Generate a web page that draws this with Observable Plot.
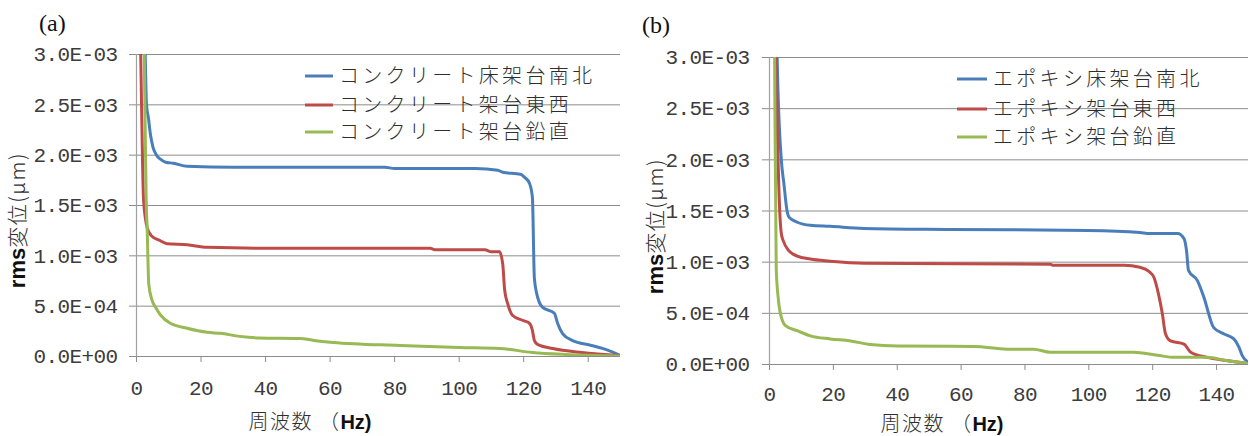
<!DOCTYPE html>
<html><head><meta charset="utf-8">
<script src="https://cdn.jsdelivr.net/npm/d3@7"></script>
<script src="https://cdn.jsdelivr.net/npm/@observablehq/plot@0.6"></script>
<style>
body{margin:0;background:#fff;width:1249px;height:436px;overflow:hidden;position:relative}
.panel{position:absolute;top:0}
</style></head><body>
<div id="pa" class="panel" style="left:0;width:630px"></div>
<div id="pb" class="panel" style="left:630px;width:619px"></div>
<script>
// ---- tick labels ----
const yTicks = [0, 0.0005, 0.001, 0.0015, 0.002, 0.0025, 0.003];
const yTickLabels = ["0.0E+00", "5.0E-04", "1.0E-03", "1.5E-03", "2.0E-03", "2.5E-03", "3.0E-03"];
const xTicks = [0, 20, 40, 60, 80, 100, 120, 140];
const colors = ["#4A7EBB", "#BE4B48", "#98B954"];

// ---- panel (a) series names ----
const namesA = ["コンクリート床架台南北", "コンクリート架台東西", "コンクリート架台鉛直"];
// ---- panel (b) series names ----
const namesB = ["エポキシ床架台南北", "エポキシ架台東西", "エポキシ架台鉛直"];

// ---- (a) コンクリート床架台南北 ----
const aNS_f = [2.4, 2.7, 3.1, 3.7, 4.3, 5.1, 6.2, 7.4, 9, 11.4, 15.7, 30, 77, 80, 105, 112, 113.5, 119, 120.3, 121.8, 122.7, 123.3, 124, 125.8, 129.5, 130.5, 132, 135, 141, 144.4, 147, 150];
const aNS_v = [3.5e-3, 3.0e-3, 2.5e-3, 2.37e-3, 2.21e-3, 2.08e-3, 2.0e-3, 1.96e-3, 1.93e-3, 1.92e-3, 1.89e-3, 1.88e-3, 1.88e-3, 1.867e-3, 1.867e-3, 1.85e-3, 1.83e-3, 1.81e-3, 1.78e-3, 1.72e-3, 1.58e-3, 0.78e-3, 0.63e-3, 0.49e-3, 0.43e-3, 0.33e-3, 0.23e-3, 0.16e-3, 0.11e-3, 0.08e-3, 0.05e-3, 0.01e-3];
// ---- (a) コンクリート架台東西 ----
const aEW_f = [1.0, 1.3, 2.2, 3.3, 4.6, 7.4, 9.5, 15.7, 21.9, 44, 91, 92.7, 108, 110, 112.5, 113.5, 114.1, 115, 116.5, 119.6, 121.8, 122.7, 123.3, 124.3, 129, 138, 150];
const aEW_v = [3.5e-3, 3.0e-3, 1.55e-3, 1.28e-3, 1.20e-3, 1.15e-3, 1.12e-3, 1.11e-3, 1.085e-3, 1.075e-3, 1.075e-3, 1.06e-3, 1.06e-3, 1.04e-3, 1.04e-3, 0.92e-3, 0.66e-3, 0.53e-3, 0.41e-3, 0.36e-3, 0.33e-3, 0.26e-3, 0.16e-3, 0.12e-3, 0.08e-3, 0.04e-3, 0.01e-3];
// ---- (a) コンクリート架台鉛直 ----
const aV_f = [2.0, 2.4, 3.0, 3.3, 3.8, 4.8, 5.9, 7.5, 10.5, 15.7, 21.9, 26, 32, 38, 50.7, 55, 61, 81.6, 100, 112.5, 122.7, 133, 150];
const aV_v = [3.5e-3, 3.0e-3, 1.55e-3, 1.28e-3, 0.72e-3, 0.56e-3, 0.49e-3, 0.41e-3, 0.33e-3, 0.28e-3, 0.24e-3, 0.23e-3, 0.20e-3, 0.185e-3, 0.18e-3, 0.16e-3, 0.14e-3, 0.11e-3, 0.09e-3, 0.08e-3, 0.04e-3, 0.02e-3, 0.005e-3];

// ---- (b) エポキシ床架台南北 ----
const bNS_f = [2.2, 2.4, 3.7, 4.5, 5.5, 6.1, 8.7, 12.8, 19, 29.5, 56.7, 99.6, 116, 119, 127.8, 129.8, 130.6, 131.2, 134, 136, 139.1, 142.2, 145.4, 147, 148, 150];
const bNS_v = [3.5e-3, 3.0e-3, 2.0e-3, 1.77e-3, 1.5e-3, 1.44e-3, 1.39e-3, 1.36e-3, 1.35e-3, 1.33e-3, 1.32e-3, 1.31e-3, 1.29e-3, 1.28e-3, 1.28e-3, 1.23e-3, 1.11e-3, 0.92e-3, 0.82e-3, 0.66e-3, 0.36e-3, 0.30e-3, 0.25e-3, 0.17e-3, 0.09e-3, 0.02e-3];
// ---- (b) エポキシ架台東西 ----
const bEW_f = [1.9, 2.1, 3.2, 3.7, 4.3, 6.1, 8.7, 12.8, 19, 29.5, 88, 88.7, 111, 116, 118.8, 120.4, 121.8, 123, 124, 125.6, 129.8, 131.9, 137, 143, 150];
const bEW_v = [3.5e-3, 3.0e-3, 1.5e-3, 1.28e-3, 1.21e-3, 1.11e-3, 1.06e-3, 1.03e-3, 1.01e-3, 0.99e-3, 0.98e-3, 0.97e-3, 0.97e-3, 0.95e-3, 0.91e-3, 0.85e-3, 0.69e-3, 0.50e-3, 0.30e-3, 0.23e-3, 0.20e-3, 0.12e-3, 0.07e-3, 0.04e-3, 0.01e-3];
// ---- (b) エポキシ架台鉛直 ----
const bV_f = [1.5, 1.6, 2.1, 2.6, 3.4, 5.0, 8.7, 12.8, 19, 25.4, 31.6, 40, 64, 74.5, 82.7, 88, 114, 121.5, 126.7, 137, 143, 150];
const bV_v = [3.5e-3, 3.0e-3, 0.95e-3, 0.69e-3, 0.50e-3, 0.38e-3, 0.33e-3, 0.28e-3, 0.25e-3, 0.23e-3, 0.195e-3, 0.18e-3, 0.176e-3, 0.15e-3, 0.15e-3, 0.12e-3, 0.12e-3, 0.09e-3, 0.07e-3, 0.07e-3, 0.04e-3, 0.01e-3];

const CJK = "'Noto Sans CJK JP', 'Noto Sans', sans-serif";

function makePanel(cfg) {
  const data = [];
  cfg.series.forEach((s, k) => s.f.forEach((f, i) => data.push({f, v: s.v[i], name: cfg.names[k]})));
  const fmt = d => yTickLabels[yTicks.indexOf(d)];
  const svg = Plot.plot({
    width: cfg.width, height: 436,
    marginLeft: cfg.ml, marginRight: cfg.mr, marginTop: cfg.mt, marginBottom: cfg.mb,
    x: {domain: [0, 150]},
    y: {domain: [0, 0.003]},
    color: {domain: cfg.names, range: colors},
    style: {fontFamily: "'Liberation Mono', monospace", fontSize: "21px", background: "transparent"},
    marks: [
      Plot.gridY(yTicks, {stroke: "#8c8c8c", strokeOpacity: 1, strokeWidth: 1}),
      Plot.ruleX([0], {stroke: "#a0a0a0", strokeWidth: 1.2}),
      Plot.axisY(yTicks, {tickFormat: fmt, tickSize: 7, tickPadding: cfg.ytp, stroke: "#8c8c8c", fill: "#3c3c3c", label: null}),
      Plot.axisX(xTicks, {tickSize: 6, tickPadding: cfg.xtp, stroke: "#8c8c8c", fill: "#3c3c3c", label: null}),
      Plot.line(data, {x: "f", y: "v", z: "name", stroke: "name", strokeWidth: 3, clip: true, curve: "monotone-x"})
    ]
  });
  const s = d3.select(svg);
  s.selectAll("g[aria-label$='tick label'] text").style("letter-spacing", "-0.6px");
  const color = svg.scale("color");
  // legend
  const lg = s.append("g").attr("text-anchor", "start");
  cfg.names.forEach((n, i) => {
    const y = cfg.legY[i];
    lg.append("line").attr("x1", cfg.legX).attr("x2", cfg.legX + cfg.legW).attr("y1", y).attr("y2", y)
      .attr("stroke", color.apply(n)).attr("stroke-width", 3);
    lg.append("text").attr("x", cfg.legX + cfg.legW + 6).attr("y", y).attr("dy", "0.36em")
      .attr("text-anchor", "start")
      .style("font-family", CJK).style("font-weight", 300).style("font-size", "20px")
      .style("letter-spacing", "3.3px").attr("fill", "#2e2e2e").text(n);
  });
  // panel label
  s.append("text").attr("x", cfg.labX).attr("y", cfg.labY).attr("text-anchor", "start").text(cfg.label)
    .style("font-family", "'Liberation Serif', serif").style("font-size", "24px").attr("fill", "#111");
  // y title
  const yt = s.append("text").attr("transform", `translate(${cfg.ytX},${cfg.ytY}) rotate(-90)`)
    .attr("text-anchor", "middle").attr("dy", "0.36em");
  yt.append("tspan").text("rms").style("font-family", "'Liberation Sans', sans-serif").style("font-weight", "bold").style("font-size", "22px").attr("fill", "#111");
  yt.append("tspan").text("変位(μm)").style("font-family", CJK).style("font-weight", 300).style("font-size", "21px").style("letter-spacing", "1.5px").attr("fill", "#2e2e2e");
  // x title
  const xt = s.append("text").attr("x", cfg.xtX).attr("y", cfg.xtY).attr("text-anchor", "middle");
  xt.append("tspan").text("周波数 （").style("font-family", CJK).style("font-weight", 300).style("font-size", "20px").style("letter-spacing", "1.5px").attr("fill", "#2e2e2e");
  xt.append("tspan").text("Hz)").style("font-family", "'Liberation Sans', sans-serif").style("font-weight", "bold").style("font-size", "20px").attr("fill", "#111");
  return svg;
}

document.getElementById("pa").append(makePanel({
  names: namesA,
  series: [{f: aNS_f, v: aNS_v}, {f: aEW_f, v: aEW_v}, {f: aV_f, v: aV_v}],
  width: 630, ml: 136, mr: 10, mt: 54, mb: 80, ytp: 12, xtp: 18,
  legX: 305, legW: 28, legY: [76, 105, 132],
  label: "(a)", labX: 39, labY: 31,
  ytX: 17, ytY: 220, xtX: 310, xtY: 429
}));
document.getElementById("pb").append(makePanel({
  names: namesB,
  series: [{f: bNS_f, v: bNS_v}, {f: bEW_f, v: bEW_v}, {f: bV_f, v: bV_v}],
  width: 619, ml: 139, mr: 1, mt: 57, mb: 72, ytp: 13, xtp: 16,
  legX: 327, legW: 30, legY: [79, 109, 137],
  label: "(b)", labX: 12, labY: 33,
  ytX: 25, ytY: 226, xtX: 312, xtY: 431
}));
</script>
</body></html>
